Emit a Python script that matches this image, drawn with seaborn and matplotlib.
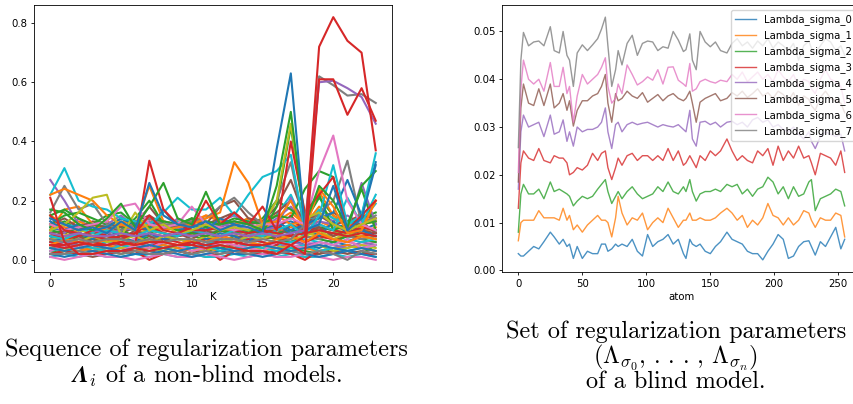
import io
import numpy as np
import pandas as pd
import matplotlib
matplotlib.use("Agg")
import matplotlib.pyplot as plt
import seaborn as sns

# ---------------- Left panel data: Lambda_i per K ----------------
K = list(range(24))

bulk_colors = ["C0", "C1", "C2", "C3", "C4", "C5", "C6", "C7", "C8", "C9",
               "C0", "C1", "C2", "C3", "C4", "C5", "C6", "C7", "C8", "C9",
               "C0", "C1", "C2", "C9",
               "C3", "C4", "C5", "C6", "C0", "C1", "C2", "C7", "C8", "C9",
               "C3", "C0", "C5", "C1"]
bulk_runs = [
    [0.05,0.04,0.06,0.05,0.04,0.05,0.06,0.07,0.05,0.04,0.06,0.05,0.07,0.06,0.05,0.04,0.06,0.07,0.05,0.04,0.06,0.05,0.04,0.03],
    [0.08,0.09,0.07,0.08,0.10,0.09,0.08,0.11,0.09,0.08,0.10,0.09,0.08,0.11,0.10,0.09,0.08,0.12,0.10,0.09,0.08,0.10,0.09,0.11],
    [0.03,0.02,0.03,0.04,0.03,0.02,0.03,0.05,0.04,0.03,0.02,0.03,0.04,0.05,0.03,0.02,0.03,0.04,0.03,0.02,0.04,0.03,0.02,0.05],
    [0.07,0.08,0.06,0.07,0.07,0.06,0.07,0.09,0.08,0.07,0.06,0.07,0.08,0.07,0.06,0.07,0.08,0.07,0.06,0.08,0.07,0.08,0.08,0.07],
    [0.10,0.11,0.09,0.12,0.10,0.09,0.11,0.10,0.12,0.11,0.09,0.10,0.12,0.11,0.10,0.12,0.11,0.10,0.13,0.11,0.10,0.12,0.11,0.10],
    [0.02,0.03,0.02,0.01,0.02,0.03,0.02,0.03,0.02,0.03,0.02,0.01,0.02,0.03,0.02,0.02,0.03,0.02,0.01,0.02,0.03,0.02,0.03,0.02],
    [0.06,0.05,0.07,0.06,0.05,0.06,0.07,0.06,0.08,0.07,0.06,0.05,0.06,0.07,0.08,0.06,0.05,0.07,0.06,0.05,0.07,0.06,0.05,0.06],
    [0.04,0.05,0.04,0.03,0.04,0.05,0.04,0.06,0.05,0.04,0.03,0.04,0.05,0.04,0.06,0.05,0.04,0.05,0.04,0.03,0.04,0.05,0.04,0.05],
    [0.09,0.08,0.10,0.09,0.08,0.07,0.09,0.10,0.09,0.08,0.09,0.10,0.09,0.08,0.10,0.09,0.11,0.10,0.09,0.08,0.09,0.10,0.09,0.08],
    [0.01,0.02,0.01,0.02,0.01,0.01,0.02,0.01,0.02,0.01,0.02,0.01,0.01,0.02,0.01,0.02,0.01,0.02,0.01,0.01,0.02,0.01,0.02,0.01],
    [0.11,0.10,0.12,0.11,0.10,0.12,0.11,0.13,0.12,0.10,0.11,0.12,0.10,0.12,0.11,0.10,0.12,0.13,0.11,0.10,0.12,0.11,0.10,0.12],
    [0.03,0.04,0.03,0.04,0.05,0.04,0.03,0.04,0.05,0.04,0.03,0.04,0.03,0.05,0.04,0.03,0.04,0.05,0.04,0.03,0.04,0.05,0.04,0.03],
    [0.07,0.06,0.08,0.07,0.08,0.07,0.06,0.08,0.07,0.09,0.08,0.07,0.06,0.08,0.07,0.08,0.07,0.06,0.08,0.07,0.06,0.08,0.07,0.06],
    [0.02,0.03,0.02,0.02,0.02,0.03,0.03,0.00,0.02,0.03,0.02,0.04,0.00,0.03,0.03,0.02,0.03,0.02,0.00,0.03,0.02,0.03,0.02,0.02],
    [0.05,0.06,0.05,0.04,0.06,0.05,0.04,0.05,0.06,0.05,0.07,0.06,0.05,0.04,0.06,0.05,0.04,0.06,0.05,0.06,0.05,0.04,0.06,0.05],
    [0.09,0.10,0.08,0.09,0.10,0.09,0.11,0.10,0.09,0.08,0.09,0.10,0.11,0.10,0.09,0.08,0.10,0.09,0.11,0.10,0.09,0.08,0.10,0.09],
    [0.01,0.00,0.01,0.02,0.01,0.01,0.00,0.01,0.02,0.01,0.01,0.02,0.01,0.00,0.01,0.02,0.01,0.01,0.02,0.01,0.00,0.01,0.01,0.00],
    [0.08,0.07,0.09,0.08,0.07,0.08,0.09,0.08,0.07,0.09,0.08,0.09,0.10,0.08,0.07,0.08,0.09,0.10,0.08,0.07,0.09,0.08,0.07,0.08],
    [0.04,0.03,0.05,0.04,0.03,0.04,0.05,0.04,0.03,0.05,0.04,0.03,0.05,0.04,0.03,0.04,0.05,0.03,0.04,0.05,0.03,0.04,0.05,0.04],
    [0.06,0.07,0.06,0.05,0.06,0.07,0.06,0.07,0.06,0.07,0.06,0.05,0.07,0.06,0.07,0.06,0.05,0.06,0.07,0.06,0.05,0.07,0.06,0.07],
    [0.02,0.01,0.02,0.03,0.02,0.01,0.02,0.02,0.03,0.02,0.01,0.02,0.03,0.02,0.02,0.01,0.02,0.03,0.02,0.01,0.02,0.03,0.02,0.01],
    [0.12,0.11,0.10,0.12,0.13,0.11,0.10,0.12,0.11,0.13,0.12,0.11,0.10,0.12,0.11,0.12,0.10,0.11,0.12,0.13,0.11,0.10,0.12,0.13],
    [0.10,0.09,0.11,0.10,0.09,0.10,0.08,0.09,0.11,0.10,0.09,0.11,0.10,0.09,0.10,0.11,0.09,0.10,0.09,0.11,0.10,0.09,0.11,0.10],
    [0.03,0.04,0.05,0.04,0.03,0.05,0.04,0.03,0.04,0.05,0.04,0.05,0.03,0.04,0.05,0.04,0.03,0.04,0.05,0.03,0.04,0.03,0.04,0.05],
    [0.06,0.05,0.04,0.06,0.07,0.05,0.06,0.04,0.07,0.06,0.05,0.07,0.06,0.05,0.07,0.06,0.05,0.09,0.06,0.08,0.07,0.06,0.08,0.09],
    [0.13,0.09,0.14,0.10,0.12,0.15,0.11,0.13,0.10,0.14,0.12,0.10,0.13,0.15,0.12,0.11,0.14,0.18,0.12,0.16,0.13,0.15,0.12,0.14],
    [0.07,0.10,0.08,0.06,0.09,0.07,0.10,0.08,0.06,0.09,0.07,0.10,0.08,0.07,0.09,0.10,0.07,0.12,0.09,0.11,0.08,0.10,0.13,0.09],
    [0.03,0.05,0.04,0.06,0.04,0.03,0.05,0.04,0.06,0.05,0.03,0.04,0.06,0.05,0.04,0.03,0.06,0.05,0.04,0.06,0.05,0.07,0.04,0.05],
    [0.08,0.06,0.09,0.07,0.10,0.08,0.06,0.09,0.07,0.08,0.10,0.07,0.09,0.08,0.06,0.10,0.12,0.09,0.11,0.08,0.13,0.09,0.10,0.08],
    [0.15,0.12,0.13,0.11,0.10,0.13,0.12,0.14,0.11,0.13,0.12,0.15,0.13,0.12,0.14,0.11,0.13,0.16,0.12,0.18,0.14,0.12,0.16,0.13],
    [0.11,0.13,0.10,0.12,0.11,0.14,0.12,0.11,0.13,0.12,0.14,0.11,0.12,0.13,0.12,0.14,0.20,0.17,0.13,0.21,0.15,0.12,0.14,0.16],
    [0.02,0.02,0.03,0.02,0.03,0.02,0.03,0.02,0.02,0.03,0.02,0.03,0.02,0.03,0.02,0.03,0.02,0.03,0.02,0.03,0.02,0.00,0.03,0.02],
    [0.07,0.08,0.06,0.08,0.06,0.07,0.08,0.06,0.08,0.07,0.06,0.08,0.07,0.06,0.08,0.07,0.09,0.07,0.08,0.10,0.07,0.09,0.08,0.07],
    [0.10,0.12,0.11,0.09,0.12,0.11,0.10,0.12,0.11,0.13,0.10,0.12,0.11,0.10,0.13,0.12,0.15,0.22,0.11,0.17,0.14,0.12,0.13,0.19],
    [0.09,0.07,0.08,0.10,0.08,0.07,0.09,0.12,0.09,0.08,0.09,0.08,0.10,0.09,0.08,0.09,0.10,0.15,0.09,0.12,0.10,0.09,0.11,0.10],
    [0.04,0.03,0.04,0.05,0.04,0.03,0.04,0.05,0.04,0.03,0.04,0.05,0.04,0.03,0.04,0.05,0.04,0.03,0.04,0.05,0.04,0.03,0.04,0.03],
    [0.12,0.14,0.11,0.13,0.12,0.11,0.13,0.15,0.12,0.11,0.13,0.12,0.14,0.16,0.12,0.13,0.16,0.20,0.13,0.14,0.16,0.13,0.15,0.12],
    [0.05,0.07,0.06,0.05,0.07,0.06,0.05,0.07,0.06,0.05,0.07,0.06,0.08,0.07,0.06,0.05,0.07,0.08,0.06,0.09,0.07,0.06,0.08,0.07],
]

peak_colors = ["C1", "C5", "C4", "C2", "C2", "C7", "C0", "C9", "C9", "C3",
               "C1", "C6", "C8", "C3", "C2", "C0", "C7", "C4", "C3", "C3"]
peak_runs = [
    [0.10,0.17,0.18,0.12,0.10,0.12,0.11,0.25,0.13,0.12,0.13,0.15,0.14,0.12,0.14,0.13,0.15,0.12,0.13,0.23,0.15,0.12,0.11,0.20],
    [0.14,0.12,0.10,0.12,0.11,0.10,0.12,0.18,0.12,0.11,0.14,0.12,0.18,0.20,0.14,0.13,0.18,0.27,0.14,0.15,0.12,0.13,0.15,0.14],
    [0.27,0.20,0.12,0.10,0.09,0.10,0.11,0.12,0.10,0.11,0.12,0.10,0.11,0.13,0.12,0.10,0.11,0.21,0.10,0.13,0.12,0.10,0.26,0.12],
    [0.15,0.17,0.14,0.12,0.15,0.16,0.12,0.14,0.13,0.12,0.14,0.13,0.12,0.14,0.13,0.12,0.15,0.14,0.24,0.30,0.28,0.10,0.12,0.13],
    [0.12,0.15,0.16,0.14,0.12,0.10,0.14,0.20,0.12,0.10,0.09,0.08,0.10,0.09,0.10,0.09,0.18,0.45,0.13,0.22,0.10,0.12,0.24,0.10],
    [0.16,0.25,0.17,0.19,0.12,0.10,0.12,0.14,0.12,0.12,0.13,0.14,0.18,0.21,0.16,0.12,0.20,0.33,0.10,0.16,0.20,0.335,0.12,0.15],
    [0.13,0.10,0.12,0.10,0.11,0.14,0.12,0.10,0.17,0.11,0.12,0.10,0.14,0.12,0.10,0.12,0.13,0.10,0.12,0.14,0.16,0.27,0.15,0.33],
    [0.08,0.07,0.09,0.08,0.10,0.09,0.08,0.10,0.09,0.08,0.10,0.09,0.08,0.10,0.09,0.08,0.10,0.12,0.08,0.15,0.32,0.12,0.15,0.36],
    [0.22,0.31,0.20,0.18,0.17,0.14,0.13,0.12,0.16,0.21,0.17,0.17,0.21,0.15,0.22,0.28,0.30,0.355,0.10,0.12,0.10,0.21,0.12,0.22],
    [0.05,0.04,0.05,0.06,0.05,0.06,0.05,0.335,0.17,0.12,0.10,0.10,0.11,0.10,0.09,0.10,0.09,0.08,0.09,0.10,0.09,0.08,0.09,0.08],
    [0.22,0.24,0.22,0.20,0.15,0.12,0.10,0.12,0.10,0.11,0.12,0.14,0.16,0.33,0.26,0.12,0.13,0.20,0.10,0.24,0.18,0.09,0.10,0.20],
    [0.12,0.10,0.11,0.12,0.13,0.18,0.19,0.12,0.11,0.12,0.18,0.12,0.11,0.10,0.11,0.12,0.12,0.14,0.12,0.30,0.42,0.20,0.12,0.10],
    [0.10,0.12,0.16,0.21,0.22,0.08,0.16,0.10,0.12,0.09,0.10,0.12,0.10,0.11,0.10,0.12,0.20,0.46,0.14,0.16,0.12,0.10,0.12,0.14],
    [0.15,0.10,0.09,0.08,0.07,0.08,0.09,0.15,0.10,0.09,0.11,0.20,0.12,0.16,0.12,0.18,0.10,0.40,0.16,0.22,0.28,0.10,0.15,0.20],
    [0.17,0.16,0.12,0.10,0.14,0.19,0.11,0.18,0.26,0.14,0.12,0.23,0.12,0.13,0.12,0.10,0.25,0.50,0.12,0.25,0.20,0.11,0.25,0.30],
    [0.14,0.12,0.10,0.11,0.09,0.13,0.10,0.26,0.15,0.12,0.11,0.13,0.10,0.12,0.11,0.09,0.375,0.63,0.10,0.12,0.25,0.10,0.14,0.32],
    [0.07,0.06,0.07,0.06,0.07,0.07,0.06,0.07,0.06,0.07,0.07,0.06,0.07,0.07,0.06,0.07,0.06,0.07,0.12,0.62,0.59,0.555,0.56,0.53],
    [0.09,0.08,0.09,0.08,0.08,0.09,0.08,0.09,0.08,0.09,0.08,0.09,0.08,0.09,0.08,0.09,0.08,0.09,0.10,0.60,0.605,0.58,0.55,0.46],
    [0.05,0.05,0.06,0.05,0.05,0.06,0.05,0.06,0.06,0.05,0.06,0.05,0.06,0.06,0.05,0.05,0.06,0.05,0.02,0.61,0.61,0.49,0.58,0.47],
    [0.21,0.06,0.02,0.02,0.03,0.03,0.04,0.03,0.04,0.05,0.05,0.04,0.05,0.04,0.03,0.03,0.02,0.05,0.08,0.72,0.82,0.74,0.70,0.37],
]

# ---------------- Right panel data: Lambda_sigma per atom ----------------
atoms = [0, 2, 4, 8, 12, 16, 20, 25, 28, 32, 35, 38, 40, 43, 46, 50, 54, 58, 62, 65,
         68, 70, 73, 76, 78, 81, 85, 89, 93, 97, 101, 105, 109, 113, 117, 121, 125, 129, 131, 134,
         136, 139, 142, 146, 150, 154, 158, 163, 167, 171, 175, 179, 183, 187, 191, 195, 199, 203, 207, 211,
         215, 219, 223, 227, 229, 232, 236, 240, 244, 248, 252, 255]

sigma_0 = [0.0035,0.0030,0.0030,0.0040,0.0050,0.0045,0.0060,0.0080,0.0070,0.0055,0.0065,0.0050,0.0055,0.0025,0.0050,0.0025,0.0040,0.0035,0.0035,0.0055,
           0.0055,0.0040,0.0045,0.0055,0.0050,0.0055,0.0050,0.0065,0.0040,0.0030,0.0075,0.0050,0.0060,0.0065,0.0075,0.0055,0.0065,0.0035,0.0025,0.0065,
           0.0055,0.0050,0.0055,0.0040,0.0035,0.0050,0.0060,0.0080,0.0065,0.0060,0.0055,0.0040,0.0035,0.0035,0.0022,0.0040,0.0055,0.0075,0.0065,0.0025,
           0.0030,0.0050,0.0060,0.0062,0.0050,0.0032,0.0060,0.0050,0.0070,0.0090,0.0045,0.0065]
sigma_1 = [0.0062,0.0100,0.0105,0.0105,0.0105,0.0125,0.0110,0.0110,0.0110,0.0105,0.0130,0.0105,0.0115,0.0085,0.0095,0.0080,0.0095,0.0105,0.0115,0.0105,
           0.0105,0.0100,0.0070,0.0110,0.0155,0.0120,0.0095,0.0110,0.0105,0.0120,0.0085,0.0100,0.0110,0.0100,0.0130,0.0110,0.0090,0.0105,0.0105,0.0120,
           0.0105,0.0105,0.0110,0.0105,0.0105,0.0110,0.0120,0.0130,0.0120,0.0105,0.0115,0.0090,0.0105,0.0095,0.0110,0.0140,0.0115,0.0110,0.0095,0.0110,
           0.0095,0.0105,0.0125,0.0120,0.0105,0.0090,0.0110,0.0105,0.0105,0.0120,0.0115,0.0070]
sigma_2 = [0.0080,0.0160,0.0180,0.0160,0.0160,0.0170,0.0150,0.0185,0.0165,0.0170,0.0165,0.0160,0.0155,0.0135,0.0145,0.0155,0.0150,0.0155,0.0170,0.0180,
           0.0190,0.0165,0.0140,0.0155,0.0165,0.0150,0.0165,0.0175,0.0160,0.0150,0.0155,0.0160,0.0175,0.0165,0.0185,0.0165,0.0160,0.0175,0.0165,0.0190,
           0.0165,0.0145,0.0160,0.0165,0.0165,0.0170,0.0165,0.0180,0.0175,0.0180,0.0160,0.0170,0.0155,0.0170,0.0175,0.0195,0.0185,0.0160,0.0175,0.0150,
           0.0175,0.0155,0.0160,0.0185,0.0190,0.0125,0.0150,0.0155,0.0160,0.0170,0.0165,0.0135]
sigma_3 = [0.0130,0.0225,0.0250,0.0235,0.0230,0.0255,0.0230,0.0225,0.0240,0.0235,0.0235,0.0225,0.0200,0.0205,0.0215,0.0210,0.0220,0.0245,0.0230,0.0245,
           0.0250,0.0215,0.0190,0.0215,0.0235,0.0220,0.0240,0.0245,0.0230,0.0240,0.0240,0.0230,0.0240,0.0230,0.0255,0.0230,0.0250,0.0220,0.0225,0.0240,
           0.0230,0.0215,0.0240,0.0230,0.0250,0.0240,0.0250,0.0275,0.0250,0.0230,0.0240,0.0230,0.0225,0.0250,0.0240,0.0255,0.0220,0.0260,0.0230,0.0250,
           0.0235,0.0260,0.0235,0.0240,0.0225,0.0200,0.0245,0.0240,0.0235,0.0220,0.0250,0.0205]
sigma_4 = [0.0170,0.0290,0.0325,0.0300,0.0305,0.0310,0.0280,0.0325,0.0285,0.0290,0.0315,0.0270,0.0290,0.0260,0.0300,0.0290,0.0295,0.0295,0.0300,0.0310,
           0.0340,0.0290,0.0255,0.0305,0.0310,0.0290,0.0305,0.0310,0.0305,0.0308,0.0310,0.0305,0.0300,0.0305,0.0302,0.0300,0.0305,0.0295,0.0290,0.0335,
           0.0275,0.0260,0.0310,0.0312,0.0305,0.0310,0.0300,0.0310,0.0312,0.0305,0.0310,0.0300,0.0315,0.0320,0.0310,0.0315,0.0300,0.0305,0.0295,0.0290,
           0.0300,0.0285,0.0275,0.0290,0.0270,0.0255,0.0280,0.0290,0.0285,0.0280,0.0285,0.0250]
sigma_5 = [0.0185,0.0340,0.0390,0.0350,0.0345,0.0380,0.0345,0.0390,0.0340,0.0350,0.0370,0.0335,0.0355,0.0302,0.0335,0.0355,0.0355,0.0365,0.0370,0.0385,
           0.0410,0.0350,0.0310,0.0370,0.0355,0.0360,0.0375,0.0365,0.0360,0.0372,0.0352,0.0360,0.0368,0.0355,0.0365,0.0370,0.0360,0.0355,0.0360,0.0375,
           0.0350,0.0310,0.0352,0.0360,0.0365,0.0370,0.0355,0.0360,0.0372,0.0365,0.0375,0.0362,0.0370,0.0380,0.0365,0.0372,0.0360,0.0375,0.0368,0.0355,
           0.0372,0.0345,0.0365,0.0358,0.0345,0.0335,0.0362,0.0375,0.0360,0.0355,0.0350,0.0330]
sigma_6 = [0.0205,0.0380,0.0440,0.0400,0.0390,0.0400,0.0375,0.0435,0.0385,0.0385,0.0425,0.0370,0.0385,0.0310,0.0365,0.0410,0.0390,0.0400,0.0410,0.0425,
           0.0445,0.0385,0.0350,0.0360,0.0390,0.0370,0.0430,0.0410,0.0388,0.0395,0.0405,0.0398,0.0420,0.0390,0.0425,0.0426,0.0398,0.0390,0.0385,0.0433,
           0.0375,0.0380,0.0395,0.0400,0.0395,0.0392,0.0398,0.0395,0.0410,0.0400,0.0415,0.0395,0.0405,0.0415,0.0400,0.0410,0.0395,0.0420,0.0405,0.0395,
           0.0410,0.0385,0.0400,0.0395,0.0380,0.0370,0.0400,0.0420,0.0400,0.0395,0.0385,0.0350]
sigma_7 = [0.0257,0.0440,0.0498,0.0470,0.0478,0.0480,0.0470,0.0510,0.0460,0.0455,0.0500,0.0450,0.0440,0.0385,0.0455,0.0472,0.0460,0.0472,0.0485,0.0505,
           0.0530,0.0470,0.0385,0.0420,0.0460,0.0430,0.0475,0.0492,0.0450,0.0475,0.0480,0.0478,0.0460,0.0468,0.0465,0.0500,0.0482,0.0458,0.0462,0.0495,
           0.0440,0.0420,0.0500,0.0478,0.0468,0.0478,0.0460,0.0455,0.0475,0.0485,0.0470,0.0478,0.0465,0.0480,0.0470,0.0485,0.0465,0.0478,0.0470,0.0460,
           0.0475,0.0440,0.0470,0.0480,0.0465,0.0455,0.0470,0.0485,0.0478,0.0460,0.0470,0.0450]
sigma_series = [sigma_0, sigma_1, sigma_2, sigma_3, sigma_4, sigma_5, sigma_6, sigma_7]
sigma_names = ["Lambda_sigma_%d" % i for i in range(8)]

# ---------------- Styling ----------------
plt.rcParams.update({
    "font.size": 7.3,
    "axes.linewidth": 0.6,
    "xtick.major.size": 2.4, "ytick.major.size": 2.4,
    "xtick.major.width": 0.6, "ytick.major.width": 0.6,
    "xtick.major.pad": 2.3, "ytick.major.pad": 2.3,
    "axes.labelpad": 2.5,
    "mathtext.fontset": "cm",
})

fig = plt.figure(figsize=(8.54, 4.04), dpi=100)
axL = fig.add_axes([34 / 854, 1 - 272 / 404, 358 / 854, 267 / 404])
axR = fig.add_axes([502 / 854, 1 - 272 / 404, 359 / 854, 267 / 404])

# Left panel
all_runs = bulk_runs + peak_runs
all_colors = bulk_colors + peak_colors
names = ["run%02d" % i for i in range(len(all_runs))]
dfL = pd.DataFrame({
    "K": [k for r in all_runs for k in K],
    "value": [v for r in all_runs for v in r],
    "run": [n for n, r in zip(names, all_runs) for _ in K],
})
sns.lineplot(data=dfL, x="K", y="value", hue="run", hue_order=names,
             palette=dict(zip(names, all_colors)), estimator=None, errorbar=None,
             legend=False, linewidth=1.5, ax=axL)
axL.set_xlabel("K")
axL.set_ylabel("")
axL.set_xticks([0, 5, 10, 15, 20])
axL.set_yticks([0.0, 0.2, 0.4, 0.6, 0.8])

# Right panel
dfR = pd.DataFrame({
    "atom": [a for s in sigma_series for a in atoms],
    "value": [v for s in sigma_series for v in s],
    "series": [n for n, s in zip(sigma_names, sigma_series) for _ in atoms],
})
sns.lineplot(data=dfR, x="atom", y="value", hue="series", hue_order=sigma_names,
             palette=["C%d" % i for i in range(8)], estimator=None, errorbar=None,
             linewidth=1.0, alpha=0.8, ax=axR)
axR.set_xlabel("atom")
axR.set_ylabel("")
axR.set_xticks([0, 50, 100, 150, 200, 250])
h, l = axR.get_legend_handles_labels()
axR.legend(h, l, loc="upper right")

# Captions
def ok_math(s):
    try:
        from matplotlib import mathtext
        mathtext.math_to_image(s, io.BytesIO(), prop=None, format="png")
        return True
    except Exception:
        return False

lam_bold = r"$\mathbfit{\Lambda}_i$" if ok_math(r"$\mathbfit{\Lambda}_i$") else r"$\mathbf{\Lambda}_i$"
tuple_txt = r"$(\Lambda_{\sigma_0},\,.\,.\,.\,,\,\Lambda_{\sigma_n})$"
cap_kw = dict(ha="center", va="center", fontsize=17.5, family="cmr10")
fig.text(206 / 854, 1 - 350 / 404, "Sequence of regularization parameters", **cap_kw)
fig.text(206 / 854, 1 - 376 / 404, lam_bold + " of a non-blind models.", **cap_kw)
fig.text(676 / 854, 1 - 332 / 404, "Set of regularization parameters", **cap_kw)
fig.text(676 / 854, 1 - 357 / 404, tuple_txt, **cap_kw)
fig.text(676 / 854, 1 - 382 / 404, "of a blind model.", **cap_kw)

fig.savefig("out.png", dpi=100)
